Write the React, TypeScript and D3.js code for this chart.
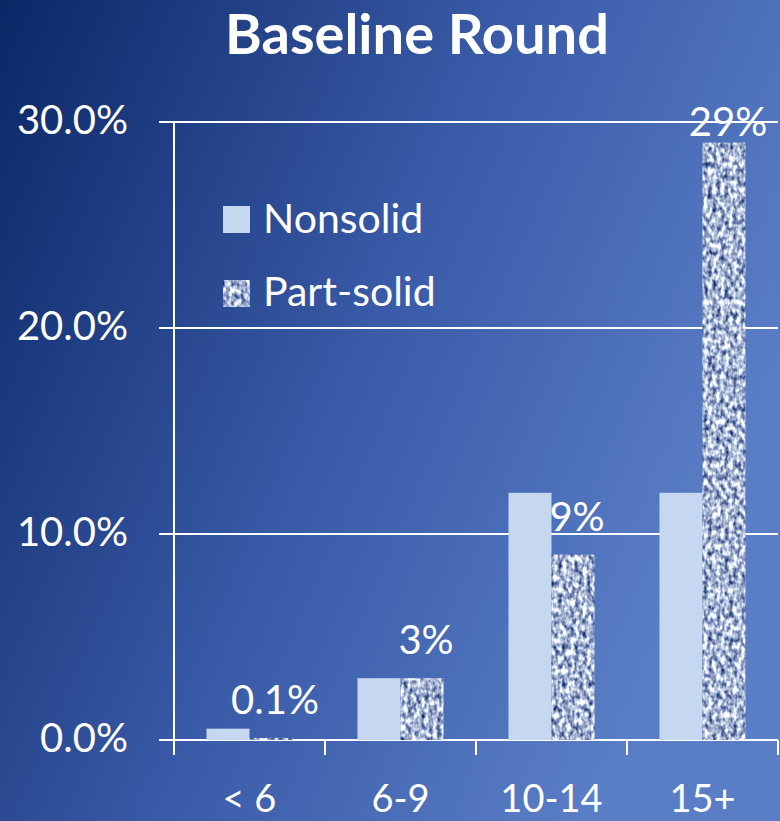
import React from "react";
import * as d3 from "d3";

const categories = ["< 6", "6-9", "10-14", "15+"];
const nonsolid = [0.55, 3, 12, 12];
const partSolid = [0.1, 3, 9, 29];
const partSolidLabels = ["0.1%", "3%", "9%", "29%"];
const yTicks = [0, 10, 20, 30];

const W = 780;
const H = 821;
const margin = { top: 122, right: 2, bottom: 81, left: 174 };
const FONT = "Lato, 'Open Sans', sans-serif";

export default function App() {
  const x = d3
    .scaleBand<string>()
    .domain(categories)
    .range([margin.left, W - margin.right]);
  const inner = d3
    .scaleBand<string>()
    .domain(["Nonsolid", "Part-solid"])
    .range([0, x.bandwidth()])
    .paddingOuter(0.755)
    .paddingInner(0);
  const y = d3
    .scaleLinear()
    .domain([0, 30])
    .range([H - margin.bottom, margin.top]);

  return (
    <div style={{ position: "absolute", left: 0, top: 0 }}>
      <svg width={W} height={H} style={{ display: "block" }}>
        <defs>
          <linearGradient id="bg" x1="0" y1="0" x2="1" y2="0.45">
            <stop offset="0%" stopColor="#0b2766" />
            <stop offset="55%" stopColor="#3a5ba8" />
            <stop offset="100%" stopColor="#5a7ec6" />
          </linearGradient>
          <filter id="tex" x="0" y="0" width="1" height="1" colorInterpolationFilters="sRGB">
            <feTurbulence type="fractalNoise" baseFrequency="0.24 0.16" numOctaves="2" seed="3" result="n" />
            <feColorMatrix
              in="n"
              type="matrix"
              values="1.75 0 0 0 -0.22  1.625 0 0 0 -0.1  1.175 0 0 0 0.24  0 0 0 0 1"
              result="c"
            />
            <feComposite in="c" in2="SourceGraphic" operator="in" />
          </filter>
        </defs>
        <rect x={0} y={0} width={W} height={H} fill="url(#bg)" />

        <text
          x={417}
          y={54}
          textAnchor="middle"
          fill="#fff"
          fontFamily={FONT}
          fontWeight="bold"
          fontSize={56}
        >
          Baseline Round
        </text>

        {/* grid */}
        {yTicks.map((t) => (
          <g key={t}>
            <line
              x1={159}
              x2={W - margin.right}
              y1={y(t)}
              y2={y(t)}
              stroke="#fff"
              strokeWidth={2}
            />
            <text
              x={128}
              y={y(t) + 12}
              textAnchor="end"
              fill="#fff"
              fontFamily={FONT}
              fontSize={40}
            >
              {t.toFixed(1)}%
            </text>
          </g>
        ))}
        <line
          x1={margin.left}
          x2={margin.left}
          y1={y(30)}
          y2={y(0) + 15}
          stroke="#fff"
          strokeWidth={2}
        />
        {categories.map((c) => (
          <line
            key={c}
            x1={(x(c) as number) + x.bandwidth()}
            x2={(x(c) as number) + x.bandwidth()}
            y1={y(0)}
            y2={y(0) + 15}
            stroke="#fff"
            strokeWidth={2}
          />
        ))}

        {/* bars */}
        {categories.map((c, i) => {
          const x0 = x(c) as number;
          const xn = x0 + (inner("Nonsolid") as number);
          const xp = x0 + (inner("Part-solid") as number);
          const bw = inner.bandwidth();
          return (
            <g key={c}>
              <rect
                x={xn}
                y={y(nonsolid[i])}
                width={bw}
                height={y(0) - y(nonsolid[i])}
                fill="#c6d8f0"
              />
              <rect
                x={xp}
                y={y(partSolid[i])}
                width={bw}
                height={y(0) - y(partSolid[i])}
                fill="#fff"
                filter="url(#tex)"
              />
              <text
                x={xp + bw / 2 + 4}
                y={Math.max(y(partSolid[i]) - 24, 136)}
                textAnchor="middle"
                fill="#fff"
                fontFamily={FONT}
                fontSize={40}
              >
                {partSolidLabels[i]}
              </text>
              <text
                x={x0 + x.bandwidth() / 2}
                y={812}
                textAnchor="middle"
                fill="#fff"
                fontFamily={FONT}
                fontSize={38}
              >
                {c}
              </text>
            </g>
          );
        })}

        {/* legend */}
        <rect x={223} y={206} width={27} height={27} fill="#c6d8f0" />
        <text x={263} y={233} fill="#fff" fontFamily={FONT} fontSize={41}>
          Nonsolid
        </text>
        <rect x={223} y={280} width={27} height={27} fill="#fff" filter="url(#tex)" />
        <text x={263} y={306} fill="#fff" fontFamily={FONT} fontSize={41}>
          Part-solid
        </text>
      </svg>
    </div>
  );
}
